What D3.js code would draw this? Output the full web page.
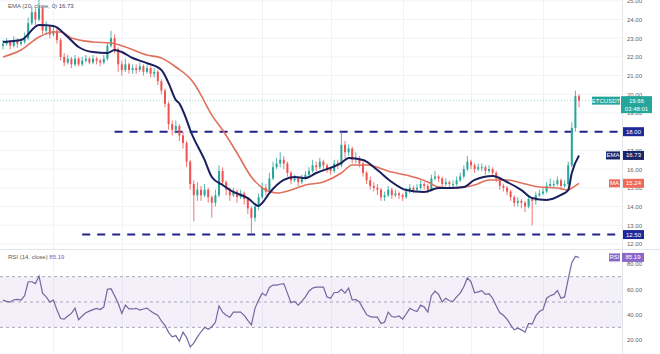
<!DOCTYPE html>
<html>
<head>
<meta charset="utf-8">
<script src="https://cdn.jsdelivr.net/npm/d3@7"></script>
<style>
  body { margin: 0; background: #fff; }
  svg { display: block; font-family: "Liberation Sans", Arial, sans-serif; }
</style>
</head>
<body>
<svg id="chart" width="660" height="354"></svg>
<script>
// ---- data (ETCUSDT, one candle per index) ----
const opens = [22.6,22.7,22.8,22.6,22.9,22.7,22.8,23.0,23.8,24.4,
  24.0,24.6,23.4,23.6,23.2,23.4,22.9,22.0,21.7,21.9,
  21.6,21.9,21.6,21.8,21.9,21.7,21.9,21.8,21.7,21.9,
  22.6,23.0,22.4,21.6,21.3,21.6,21.3,21.4,21.3,21.5,
  21.2,21.4,21.1,21.2,20.7,20.2,19.5,18.4,18.1,18.3,
  17.8,17.4,16.4,15.2,14.6,14.9,14.6,14.9,14.5,14.2,
  14.6,15.9,15.3,14.9,14.6,14.8,14.5,14.7,14.4,13.9,
  13.4,14.0,14.5,15.0,14.8,15.5,16.1,16.3,16.5,16.3,
  15.8,15.4,15.5,15.3,15.5,15.7,15.9,16.2,16.1,16.4,
  16.2,16.0,15.9,16.3,16.2,17.3,16.9,17.1,16.5,16.6,
  16.3,15.8,15.4,15.1,15.0,14.9,14.5,14.6,14.9,14.6,
  14.7,14.6,14.5,14.8,15.0,14.9,15.0,15.2,15.1,14.9,
  15.5,15.6,15.5,15.2,15.3,15.2,15.2,15.4,15.6,16.0,
  16.4,16.2,16.0,16.1,16.1,15.9,16.0,15.8,15.5,15.1,
  15.0,14.8,14.5,14.2,14.3,14.2,14.0,14.4,14.3,14.6,
  14.7,14.8,15.1,15.2,15.2,15.4,15.1,15.2,16.2,18.2,
  19.9];
const closes = [22.7,22.8,22.6,22.9,22.7,22.8,23.0,23.8,24.4,24.0,
  24.6,23.4,23.6,23.2,23.4,22.9,22.0,21.7,21.9,21.6,
  21.9,21.6,21.8,21.9,21.7,21.9,21.8,21.7,21.9,22.6,
  23.0,22.4,21.6,21.3,21.6,21.3,21.4,21.3,21.5,21.2,
  21.4,21.1,21.2,20.7,20.2,19.5,18.4,18.1,18.3,17.8,
  17.4,16.4,15.2,14.6,14.9,14.6,14.9,14.5,14.2,14.6,
  15.9,15.3,14.9,14.6,14.8,14.5,14.7,14.4,13.9,13.4,
  14.0,14.5,15.0,14.8,15.5,16.1,16.3,16.5,16.3,15.8,
  15.4,15.5,15.3,15.5,15.7,15.9,16.2,16.1,16.4,16.2,
  16.0,15.9,16.3,16.2,17.3,16.9,17.1,16.5,16.6,16.3,
  15.8,15.4,15.1,15.0,14.9,14.5,14.6,14.9,14.6,14.7,
  14.6,14.5,14.8,15.0,14.9,15.0,15.2,15.1,14.9,15.5,
  15.6,15.5,15.2,15.3,15.2,15.2,15.4,15.6,16.0,16.4,
  16.2,16.0,16.1,16.1,15.9,16.0,15.8,15.5,15.1,15.0,
  14.8,14.5,14.2,14.3,14.2,14.0,14.4,14.3,14.6,14.7,
  14.8,15.1,15.2,15.2,15.4,15.1,15.2,16.2,18.2,19.9,
  19.66];
const highs = [22.9,23.0,22.9,23.1,23.0,23.0,23.3,24.1,24.7,24.6,
  25.3,24.7,23.9,23.7,23.6,23.5,23.0,22.2,22.1,22.0,
  22.1,22.0,22.0,22.1,22.0,22.1,22.0,21.9,22.1,22.8,
  23.4,23.2,22.5,21.8,21.9,21.7,21.6,21.6,21.7,21.6,
  21.6,21.5,21.4,21.3,20.8,20.3,19.6,18.6,18.6,18.4,
  18.0,17.5,16.5,15.4,15.3,15.1,15.2,15.0,14.6,14.9,
  16.2,16.1,15.4,15.0,15.0,14.9,14.9,14.8,14.5,14.0,
  14.2,14.7,15.3,15.2,15.8,16.4,16.6,16.9,16.7,16.4,
  15.9,15.7,15.6,15.7,15.9,16.1,16.5,16.4,16.6,16.5,
  16.3,16.1,16.5,16.5,18.0,17.5,17.3,17.2,16.9,16.7,
  16.4,15.9,15.6,15.3,15.2,15.0,14.8,15.1,15.0,14.9,
  14.8,14.7,15.0,15.2,15.1,15.2,15.4,15.3,15.2,15.7,
  15.9,15.7,15.6,15.5,15.4,15.4,15.6,15.8,16.2,16.7,
  16.5,16.3,16.3,16.3,16.2,16.2,16.1,15.9,15.6,15.2,
  15.1,14.9,14.6,14.5,14.4,14.3,14.6,14.5,14.8,14.9,
  15.0,15.3,15.5,15.4,15.6,15.5,15.4,16.4,18.5,20.2,
  20.0];
const lows = [22.4,22.6,22.4,22.5,22.5,22.6,22.7,22.9,23.7,23.7,
  23.9,23.2,23.2,23.0,23.1,22.7,21.8,21.5,21.6,21.4,
  21.5,21.5,21.5,21.7,21.6,21.6,21.6,21.5,21.6,21.8,
  22.5,22.2,21.2,21.0,21.2,21.1,21.1,21.1,21.2,21.0,
  21.1,20.9,20.9,20.5,20.0,19.3,18.1,17.8,17.9,17.5,
  17.1,16.1,14.9,13.2,14.3,14.3,14.5,14.2,13.4,14.0,
  14.5,15.1,14.6,14.3,14.5,14.2,14.4,14.1,13.6,12.55,
  13.2,13.8,14.4,14.6,14.7,15.4,16.0,16.1,16.0,15.6,
  15.2,15.3,15.1,15.2,15.4,15.6,15.8,15.9,16.0,16.0,
  15.8,15.7,15.8,16.0,16.1,16.6,16.7,16.3,16.3,16.1,
  15.6,15.2,14.9,14.8,14.6,14.3,14.3,14.5,14.4,14.5,
  14.4,14.3,14.4,14.7,14.7,14.8,14.9,14.9,14.7,14.8,
  15.4,15.3,15.0,15.1,15.0,15.0,15.1,15.3,15.5,15.9,
  16.0,15.8,15.9,15.9,15.7,15.8,15.6,15.3,14.9,14.8,
  14.6,14.3,14.0,14.0,13.9,13.7,13.9,13.0,14.1,14.5,
  14.6,14.7,15.0,15.0,15.1,14.9,15.0,15.1,16.1,18.0,
  19.3];

// EMA(20) and MA read at these candle indexes
const emaIdx = [0,5,10,14,18,21,25,29,31,33,36,40,44,46,48,49,51,52,56,58,61,64,68,71,72,74,78,81,84,87,94,96,100,104,108,112,117,121,124,128,131,136,140,144,147,151,155,157,158,160];
const emaVal = [22.8,22.9,23.7,23.65,23.06,22.53,22.26,22.21,22.37,22.26,21.94,21.67,21.3,20.6,19.7,19.5,18.63,18.09,16.49,15.58,15.15,14.78,14.45,14.03,14.19,14.72,15.42,15.58,15.52,15.79,16.33,16.59,16.49,15.95,15.31,14.88,14.78,14.99,14.99,15.04,15.42,15.63,15.31,14.88,14.45,14.35,14.62,14.88,15.79,16.73];
const maIdx = [0,5,10,14,16,19,25,30,34,40,44,48,53,55,58,61,65,69,73,76,80,84,89,94,97,101,108,112,118,121,126,131,135,140,144,149,154,157,158,160];
const maVal = [22.0,22.37,23.06,23.33,23.33,23.01,22.8,22.74,22.53,22.1,21.94,21.46,20.6,19.96,18.89,18.09,16.86,15.58,14.88,14.72,14.88,15.15,15.31,15.79,16.22,16.22,15.84,15.68,15.31,15.04,14.99,15.15,15.42,15.42,15.26,15.04,14.99,14.88,14.99,15.24];

// RSI(14), one value per candle
const rsiVal = [51.5,50.5,49.9,51.8,52.0,51.5,55,66,66,64.5,
  70.5,57,54,50,51.5,43.6,37,36.5,39,41,
  45.2,36,39,41.5,42.8,44,45,44,46,60,
  60.5,55,49,41,47.5,44.5,44.5,45,43.6,44.5,
  45.2,42.8,41,39.6,35,31.5,26,22.5,23.5,19,
  26.2,22,14.5,17.5,22.5,26.5,30,28.5,30.5,34,
  47,42,39.5,38,42,42,42,39.5,35.5,32,
  45,51.5,57,55,61.5,63.4,63.4,64,64.5,57,
  49.5,50.5,47.5,50.5,54,58.5,61,61.8,61.8,61.8,
  54,53,57.5,57.5,60,57,61,51.5,52,50,
  45,40,38.5,38,38,33,34,42,38.5,38,
  39,36.5,40.5,45,43.5,42.5,47.5,46,42,55,
  58.5,56,50,53,51,50.5,54,57,62,69,
  66,57.3,58,59,56,56.5,53,47,41.5,39.5,
  36.5,32,28,29.3,28,26.2,33,32.5,39,42.5,
  44,53,55,56,59,53,54,68,81,86,
  85.19];

const priceTicks = [12,13,14,15,16,17,18,19,20,21,22,23,24,25];
const rsiTicks = [20,40,60,80];
const rsiBands = [70,50,30];
const gridIdx = [14,33,52,72,91,111,130,150];
const levels = [18, 12.5];
const levelFrom = [31, 22];
const lastPrice = 19.66;
const countdown = '03:48:01';
const emaLast = 16.73, maLast = 15.24, rsiLast = 85.19;

// ---- layout ----
const axisX = 622, paneSplit = 249;
const svg = d3.select('#chart');

const x = d3.scaleLinear().domain([0, closes.length - 1]).range([3, 579]);
const y = d3.scaleLinear().domain([12, 24]).range([243.9, 19.5]);
const yr = d3.scaleLinear().domain([20, 80]).range([340, 264]);

const defs = svg.append('defs');
defs.append('clipPath').attr('id', 'mainClip')
  .append('rect').attr('x', 0).attr('y', 0).attr('width', axisX).attr('height', paneSplit);
defs.append('clipPath').attr('id', 'rsiClip')
  .append('rect').attr('x', 0).attr('y', paneSplit).attr('width', axisX).attr('height', 354 - paneSplit);

// grid
svg.append('g').selectAll('line').data(priceTicks).enter().append('line')
  .attr('x1', 0).attr('x2', axisX)
  .attr('y1', d => y(d)).attr('y2', d => y(d))
  .attr('stroke', '#f1f2f6').attr('stroke-width', 1);
svg.append('g').selectAll('line').data(gridIdx).enter().append('line')
  .attr('x1', d => Math.round(x(d)) + 0.5).attr('x2', d => Math.round(x(d)) + 0.5)
  .attr('y1', 0).attr('y2', 354)
  .attr('stroke', '#f1f2f6').attr('stroke-width', 1);

// separators
svg.append('line').attr('x1', 0).attr('x2', 660).attr('y1', paneSplit + 0.5).attr('y2', paneSplit + 0.5)
  .attr('stroke', '#e3e5ec');
svg.append('line').attr('x1', axisX + 0.5).attr('x2', axisX + 0.5).attr('y1', 0).attr('y2', 354)
  .attr('stroke', '#e3e5ec');

// ---- main pane ----
const main = svg.append('g').attr('clip-path', 'url(#mainClip)');

// last price line
main.append('line')
  .attr('x1', 0).attr('x2', axisX)
  .attr('y1', y(lastPrice)).attr('y2', y(lastPrice))
  .attr('stroke', '#26a69a').attr('stroke-opacity', 0.45)
  .attr('stroke-dasharray', '1,2');

// horizontal levels
main.append('g').selectAll('line').data(levels).enter().append('line')
  .attr('x1', (d, i) => x(levelFrom[i])).attr('x2', axisX)
  .attr('y1', d => y(d)).attr('y2', d => y(d))
  .attr('stroke', '#22228a').attr('stroke-width', 2)
  .attr('stroke-dasharray', '8,7');

// candles
const idx = d3.range(closes.length);
const colorOf = i => closes[i] >= opens[i] ? '#26a69a' : '#ef5350';
const candles = main.append('g').selectAll('g').data(idx).enter().append('g');
candles.append('line')
  .attr('x1', i => x(i)).attr('x2', i => x(i))
  .attr('y1', i => y(highs[i])).attr('y2', i => y(lows[i]))
  .attr('stroke', colorOf).attr('stroke-width', 0.8);
candles.append('rect')
  .attr('x', i => x(i) - 1)
  .attr('width', 2)
  .attr('y', i => y(Math.max(opens[i], closes[i])))
  .attr('height', i => Math.max(1, Math.abs(y(opens[i]) - y(closes[i]))))
  .attr('fill', colorOf);

// moving averages
const maLine = d3.line()
  .x(d => x(d[0])).y(d => y(d[1]))
  .curve(d3.curveMonotoneX);
main.append('path')
  .datum(d3.zip(maIdx, maVal))
  .attr('d', maLine)
  .attr('fill', 'none').attr('stroke', '#e0705c').attr('stroke-width', 1.6);
main.append('path')
  .datum(d3.zip(emaIdx, emaVal))
  .attr('d', maLine)
  .attr('fill', 'none').attr('stroke', '#1a1f5e').attr('stroke-width', 2);

// ---- RSI pane ----
const rsiG = svg.append('g').attr('clip-path', 'url(#rsiClip)');
rsiG.append('rect')
  .attr('x', 0).attr('width', axisX)
  .attr('y', yr(70)).attr('height', yr(30) - yr(70))
  .attr('fill', '#7e57c2').attr('fill-opacity', 0.09);
rsiG.append('g').selectAll('line').data(rsiBands).enter().append('line')
  .attr('x1', 0).attr('x2', axisX)
  .attr('y1', d => yr(d)).attr('y2', d => yr(d))
  .attr('stroke', '#a8a6b6').attr('stroke-dasharray', '3,3');
rsiG.append('path')
  .datum(rsiVal)
  .attr('d', d3.line().x((d, i) => x(i)).y(d => yr(d)))
  .attr('fill', 'none').attr('stroke', '#76659f').attr('stroke-width', 1.2);

// ---- axes ----
const styleAxis = g => {
  g.select('.domain').remove();
  g.selectAll('text').attr('fill', '#5d606b').style('font-size', '6px');
};
svg.append('g')
  .attr('transform', `translate(${axisX},0)`)
  .call(d3.axisRight(y).tickValues(priceTicks).tickSize(0).tickPadding(5).tickFormat(d3.format('.2f')))
  .call(styleAxis);
svg.append('g')
  .attr('transform', `translate(${axisX},0)`)
  .call(d3.axisRight(yr).tickValues(rsiTicks).tickSize(0).tickPadding(5).tickFormat(d3.format('.2f')))
  .call(styleAxis);

// ---- right-side tags ----
function tag(cy, label, color, x0, w, h) {
  svg.append('rect').attr('x', x0).attr('y', cy - h / 2).attr('width', w).attr('height', h)
    .attr('fill', color);
  svg.append('text').attr('x', x0 + w / 2).attr('y', cy + 2)
    .attr('text-anchor', 'middle').attr('fill', '#fff').style('font-size', '6px')
    .text(label);
}
const fmt = d3.format('.2f');
levels.forEach(v => tag(y(v), fmt(v), '#1f2a98', 623, 21, 9));
tag(y(emaLast), 'EMA', '#1b2569', 606, 14, 8);
tag(y(emaLast), fmt(emaLast), '#1b2569', 623, 21, 9);
tag(y(maLast), 'MA', '#ee6b5c', 609, 11, 8);
tag(y(maLast), fmt(maLast), '#ee6b5c', 623, 21, 9);
tag(yr(rsiLast), 'RSI', '#8a67c9', 609, 11, 8);
tag(yr(rsiLast), fmt(rsiLast), '#8a67c9', 622, 22, 9);

// last price tag (two lines)
const py = y(lastPrice);
tag(py, 'ETCUSDT', '#26a69a', 592, 28, 8);
svg.append('rect').attr('x', 621).attr('y', py - 4.5).attr('width', 31).attr('height', 17)
  .attr('fill', '#26a69a');
svg.append('text').attr('x', 636.5).attr('y', py + 2).attr('text-anchor', 'middle')
  .attr('fill', '#fff').style('font-size', '6px').text(fmt(lastPrice));
svg.append('text').attr('x', 636.5).attr('y', py + 10).attr('text-anchor', 'middle')
  .attr('fill', '#fff').style('font-size', '6px').text(countdown);

// ---- legends ----
const leg = svg.append('text').attr('x', 8).attr('y', 8).style('font-size', '6px').attr('fill', '#55585f');
leg.append('tspan').text('EMA (20, close, 0)  ');
leg.append('tspan').attr('fill', '#3b3f6a').text(fmt(emaLast));

const rleg = svg.append('text').attr('x', 8).attr('y', 259).style('font-size', '6px').attr('fill', '#55585f');
rleg.append('tspan').text('RSI (14, close)  ');
rleg.append('tspan').attr('fill', '#7e57c2').text(fmt(rsiLast));
</script>
</body>
</html>
